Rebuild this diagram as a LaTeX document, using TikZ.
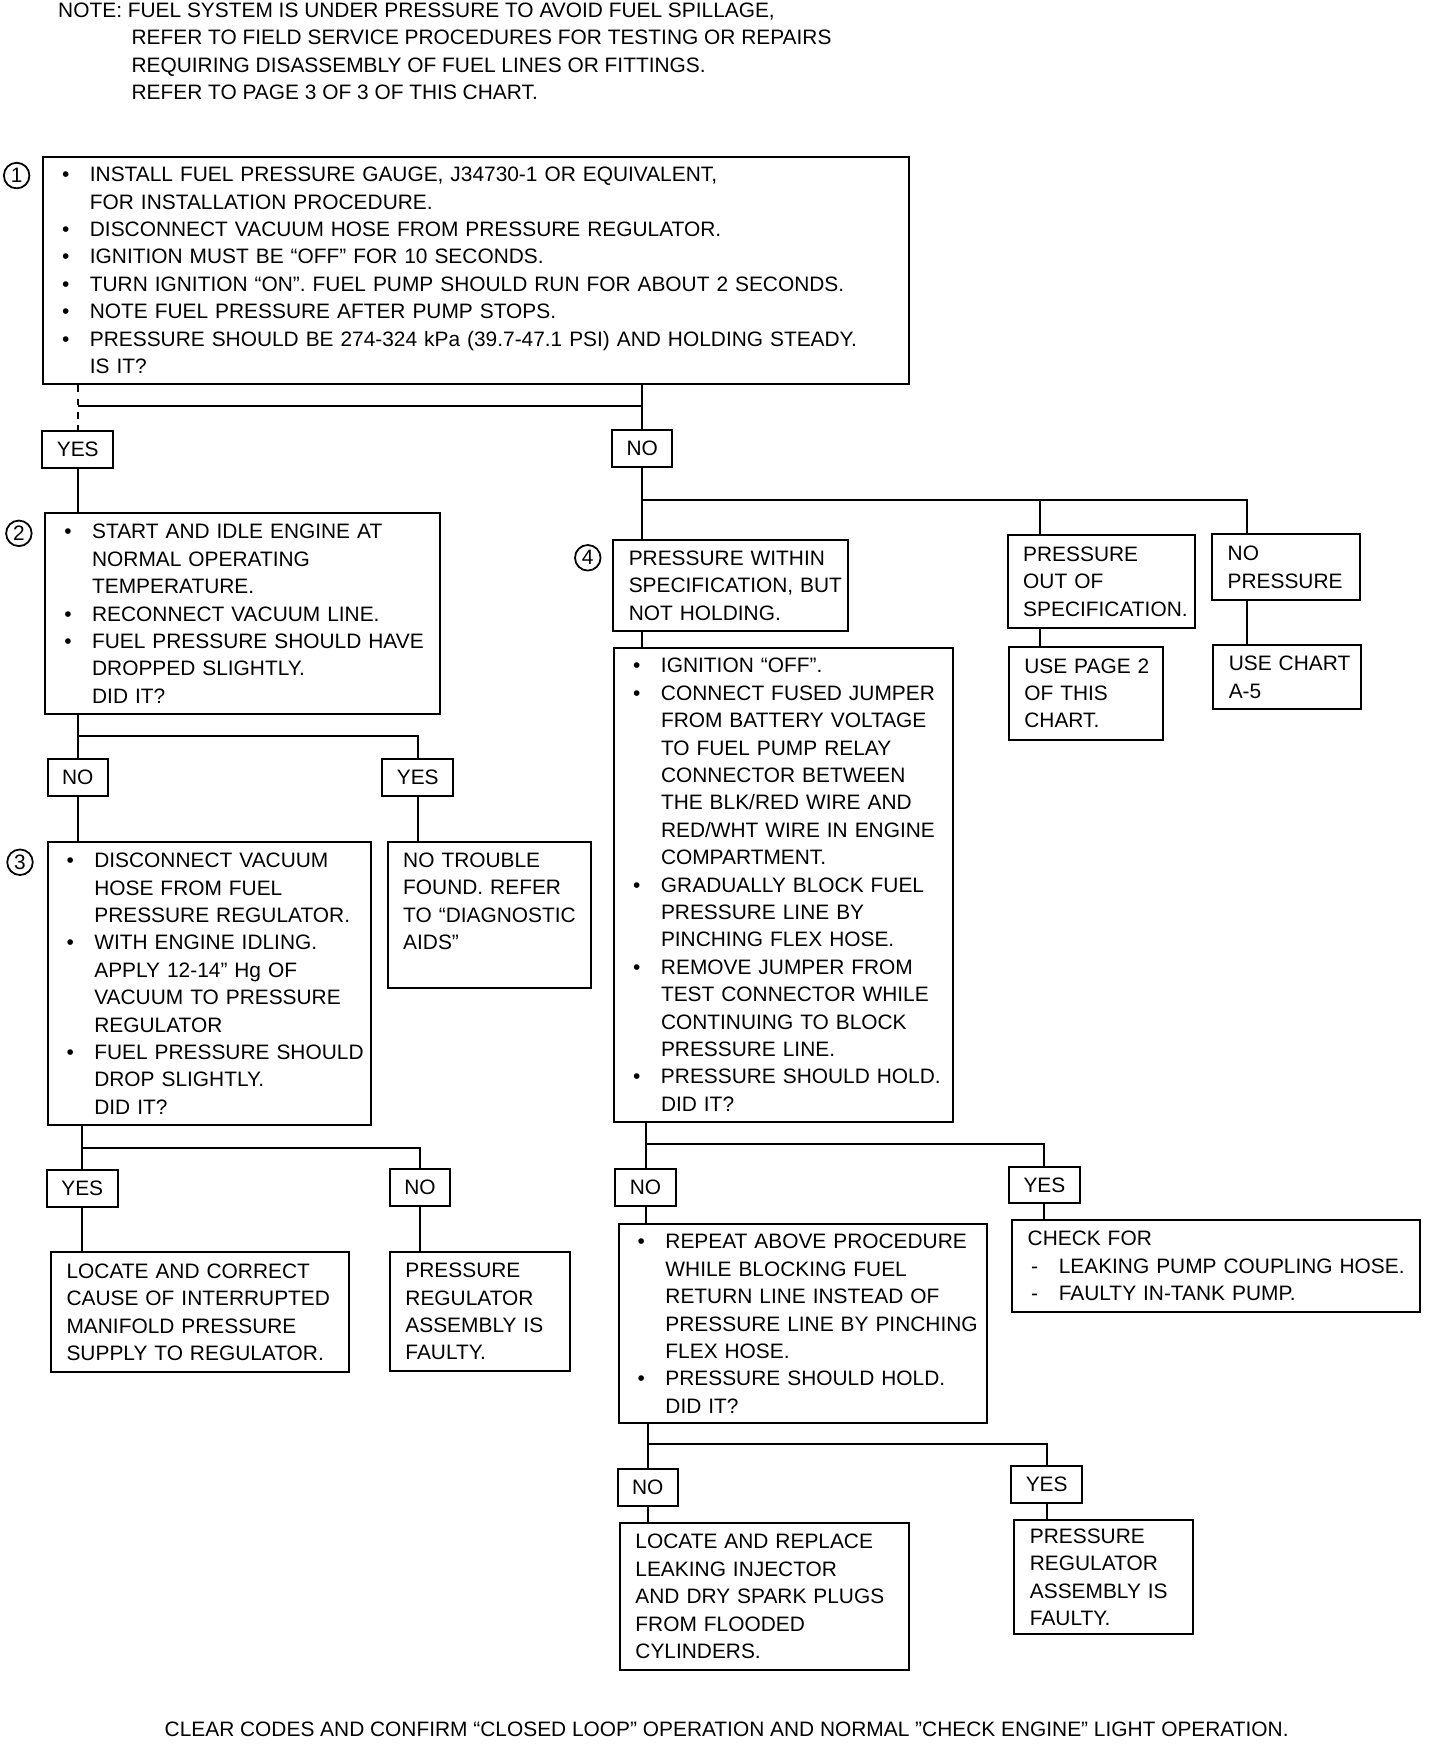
\documentclass[tikz,border=0pt]{standalone}
\usepackage{fontspec}
\setmainfont{Liberation Sans}
\usetikzlibrary{calc}

\begin{document}
\begin{tikzpicture}[x=.5pt, y=-.5pt,
  every node/.style={font=\fontsize{9.4}{12.33}\selectfont},
  chart/.style={draw, line width=.9pt, anchor=north west, inner xsep=7pt, inner ysep=0pt, align=left},
  answer/.style={draw, line width=.9pt, inner xsep=6.5pt, inner ysep=0pt, minimum height=16.5pt},
  stepno/.style={draw, circle, line width=.8pt, inner sep=0pt, minimum size=11.5pt},
  link/.style={line width=.9pt}]
\newcommand{\dotline}[1]{\mbox{\makebox[14pt][l]{\hspace{1.5pt}\textbullet}#1}}%
\newcommand{\dashline}[1]{\mbox{\makebox[14pt][l]{\hspace{1.5pt}-}#1}}%
\newcommand{\contline}[1]{\mbox{\hspace*{14pt}#1}}%
\newcommand{\plainline}[1]{\mbox{#1}}%
\newcommand{\chartbox}[5]{\node[chart, text width=#3pt, minimum height=#4pt] (#1) at #2 {#5};}%
\useasboundingbox (0,0) rectangle (1296,1575);

\node[anchor=north west, inner sep=0pt, align=left] (note) at (52,2) {NOTE: FUEL SYSTEM IS UNDER PRESSURE TO AVOID FUEL SPILLAGE,\\
\hspace*{33pt}REFER TO FIELD SERVICE PROCEDURES FOR TESTING OR REPAIRS\\
\hspace*{33pt}REQUIRING DISASSEMBLY OF FUEL LINES OR FITTINGS.\\
\hspace*{33pt}REFER TO PAGE 3 OF 3 OF THIS CHART.};

% left column
\chartbox{q1}{(38,140)}{375.5}{102.5}{\dotline{INSTALL FUEL PRESSURE GAUGE, J34730-1 OR EQUIVALENT,}\\
\contline{FOR INSTALLATION PROCEDURE.}\\
\dotline{DISCONNECT VACUUM HOSE FROM PRESSURE REGULATOR.}\\
\dotline{IGNITION MUST BE “OFF” FOR 10 SECONDS.}\\
\dotline{TURN IGNITION “ON”. FUEL PUMP SHOULD RUN FOR ABOUT 2 SECONDS.}\\
\dotline{NOTE FUEL PRESSURE AFTER PUMP STOPS.}\\
\dotline{PRESSURE SHOULD BE 274-324 kPa (39.7-47.1 PSI) AND HOLDING STEADY.}\\
\contline{IS IT?}}
\chartbox{q2}{(40,461)}{163.5}{90.5}{\dotline{START AND IDLE ENGINE AT}\\
\contline{NORMAL OPERATING}\\
\contline{TEMPERATURE.}\\
\dotline{RECONNECT VACUUM LINE.}\\
\dotline{FUEL PRESSURE SHOULD HAVE}\\
\contline{DROPPED SLIGHTLY.}\\
\contline{DID IT?}}
\chartbox{q3}{(42,757)}{131.5}{127.5}{\dotline{DISCONNECT VACUUM}\\
\contline{HOSE FROM FUEL}\\
\contline{PRESSURE REGULATOR.}\\
\dotline{WITH ENGINE IDLING.}\\
\contline{APPLY 12-14” Hg OF}\\
\contline{VACUUM TO PRESSURE}\\
\contline{REGULATOR}\\
\dotline{FUEL PRESSURE SHOULD}\\
\contline{DROP SLIGHTLY.}\\
\contline{DID IT?}}
\chartbox{ntf}{(348,757)}{77.5}{65.5}{\plainline{NO TROUBLE}\\ \plainline{FOUND. REFER}\\ \plainline{TO “DIAGNOSTIC}\\ \plainline{AIDS”}\\ \mbox{}}
\chartbox{corr}{(45,1126)}{120}{54}{\plainline{LOCATE AND CORRECT}\\ \plainline{CAUSE OF INTERRUPTED}\\ \plainline{MANIFOLD PRESSURE}\\ \plainline{SUPPLY TO REGULATOR.}}
\chartbox{regl}{(350,1126)}{67}{53.5}{\plainline{PRESSURE}\\ \plainline{REGULATOR}\\ \plainline{ASSEMBLY IS}\\ \plainline{FAULTY.}}

% right column
\chartbox{q4}{(551,485)}{91.5}{41}{\plainline{PRESSURE WITHIN}\\ \plainline{SPECIFICATION, BUT}\\ \plainline{NOT HOLDING.}}
\chartbox{pos}{(906,481)}{70.5}{41.5}{\plainline{PRESSURE}\\ \plainline{OUT OF}\\ \plainline{SPECIFICATION.}}
\chartbox{np}{(1090,480)}{52.5}{29.5}{\plainline{NO}\\ \plainline{PRESSURE}}
\chartbox{page2}{(907,581)}{55.5}{42}{\plainline{USE PAGE 2}\\ \plainline{OF THIS}\\ \plainline{CHART.}}
\chartbox{chartA}{(1091,580)}{52.5}{28.5}{\plainline{USE CHART}\\ \plainline{A-5}}
\chartbox{q5}{(552,582)}{138.5}{213.5}{\dotline{IGNITION “OFF”.}\\
\dotline{CONNECT FUSED JUMPER}\\
\contline{FROM BATTERY VOLTAGE}\\
\contline{TO FUEL PUMP RELAY}\\
\contline{CONNECTOR BETWEEN}\\
\contline{THE BLK/RED WIRE AND}\\
\contline{RED/WHT WIRE IN ENGINE}\\
\contline{COMPARTMENT.}\\
\dotline{GRADUALLY BLOCK FUEL}\\
\contline{PRESSURE LINE BY}\\
\contline{PINCHING FLEX HOSE.}\\
\dotline{REMOVE JUMPER FROM}\\
\contline{TEST CONNECTOR WHILE}\\
\contline{CONTINUING TO BLOCK}\\
\contline{PRESSURE LINE.}\\
\dotline{PRESSURE SHOULD HOLD.}\\
\contline{DID IT?}}
\chartbox{check}{(910,1097)}{169.5}{41.5}{\plainline{CHECK FOR}\\
\dashline{LEAKING PUMP COUPLING HOSE.}\\
\dashline{FAULTY IN-TANK PUMP.}}
\chartbox{q6}{(556,1101)}{151.5}{89.5}{\dotline{REPEAT ABOVE PROCEDURE}\\
\contline{WHILE BLOCKING FUEL}\\
\contline{RETURN LINE INSTEAD OF}\\
\contline{PRESSURE LINE BY PINCHING}\\
\contline{FLEX HOSE.}\\
\dotline{PRESSURE SHOULD HOLD.}\\
\contline{DID IT?}}
\chartbox{inj}{(557,1370)}{116}{66}{\plainline{LOCATE AND REPLACE}\\ \plainline{LEAKING INJECTOR}\\ \plainline{AND DRY SPARK PLUGS}\\ \plainline{FROM FLOODED}\\ \plainline{CYLINDERS.}}
\chartbox{regr}{(912,1367)}{66.5}{51.5}{\plainline{PRESSURE}\\ \plainline{REGULATOR}\\ \plainline{ASSEMBLY IS}\\ \plainline{FAULTY.}}

% step numbers
\node[stepno] (n1) at (15,158) {1};
\node[stepno] (n2) at (17,480) {2};
\node[stepno] (n3) at (18,776) {3};
\node[stepno] (n4) at (529,502) {4};

% answers
\node[answer] (yes1) at (70,404.5) {YES};
\node[answer] (no1) at (578,403.5) {NO};
\node[answer] (no2) at (70,699.5) {NO};
\node[answer] (yes2) at (376,699.5) {YES};
\node[answer] (yes3) at (74,1069.5) {YES};
\node[answer] (no3) at (378,1069) {NO};
\node[answer] (no5) at (581,1068.5) {NO};
\node[answer] (yes5) at (940,1066.5) {YES};
\node[answer] (no6) at (583,1338.5) {NO};
\node[answer] (yes6) at (942,1336) {YES};

\node (closing) at (654,1556) {CLEAR CODES AND CONFIRM “CLOSED LOOP” OPERATION AND NORMAL ”CHECK ENGINE” LIGHT OPERATION.};

% branch rails
\coordinate (h1) at (0,365);
\coordinate (h2) at (0,662);
\coordinate (h3) at (0,1033);
\coordinate (h4) at (0,450);
\coordinate (h5) at (0,1030);
\coordinate (h6) at (0,1300);
\coordinate (posx) at ($(pos.north west)+(30,0)$);
\coordinate (npx) at ($(np.north west)+(32,0)$);

% step 1
\draw[link, dashed] (q1.south -| yes1) -- (yes1.north);
\draw[link] (q1.south -| no1) -- (no1.north);
\draw[link] (h1 -| yes1) -- (h1 -| no1);
\draw[link] (yes1.south) -- (yes1.south |- q2.north);
% step 2
\draw[link] (q2.south -| no2) -- (no2.north);
\draw[link] (h2 -| no2) -| (yes2.north);
\draw[link] (no2.south) -- (no2.south |- q3.north);
\draw[link] (yes2.south) -- (yes2.south |- ntf.north);
% step 3
\draw[link] (q3.south -| yes3) -- (yes3.north);
\draw[link] (h3 -| yes3) -| (no3.north);
\draw[link] (yes3.south) -- (yes3.south |- corr.north);
\draw[link] (no3.south) -- (no3.south |- regl.north);
% step 4
\draw[link] (no1.south) -- (no1.south |- q4.north);
\draw[link] (h4 -| no1) -| (npx);
\draw[link] (h4 -| posx) -- (posx);
\draw[link] (pos.south -| posx) -- (page2.north -| posx);
\draw[link] (np.south -| npx) -- (chartA.north -| npx);
\draw[link] (q4.south -| no1) -- (q5.north -| no1);
% step 5
\draw[link] (q5.south -| no5) -- (no5.north);
\draw[link] (h5 -| no5) -| (yes5.north);
\draw[link] (no5.south) -- (no5.south |- q6.north);
\draw[link] (yes5.south) -- (yes5.south |- check.north);
% step 6
\draw[link] (q6.south -| no6) -- (no6.north);
\draw[link] (h6 -| no6) -| (yes6.north);
\draw[link] (no6.south) -- (no6.south |- inj.north);
\draw[link] (yes6.south) -- (yes6.south |- regr.north);

\end{tikzpicture}
\end{document}
